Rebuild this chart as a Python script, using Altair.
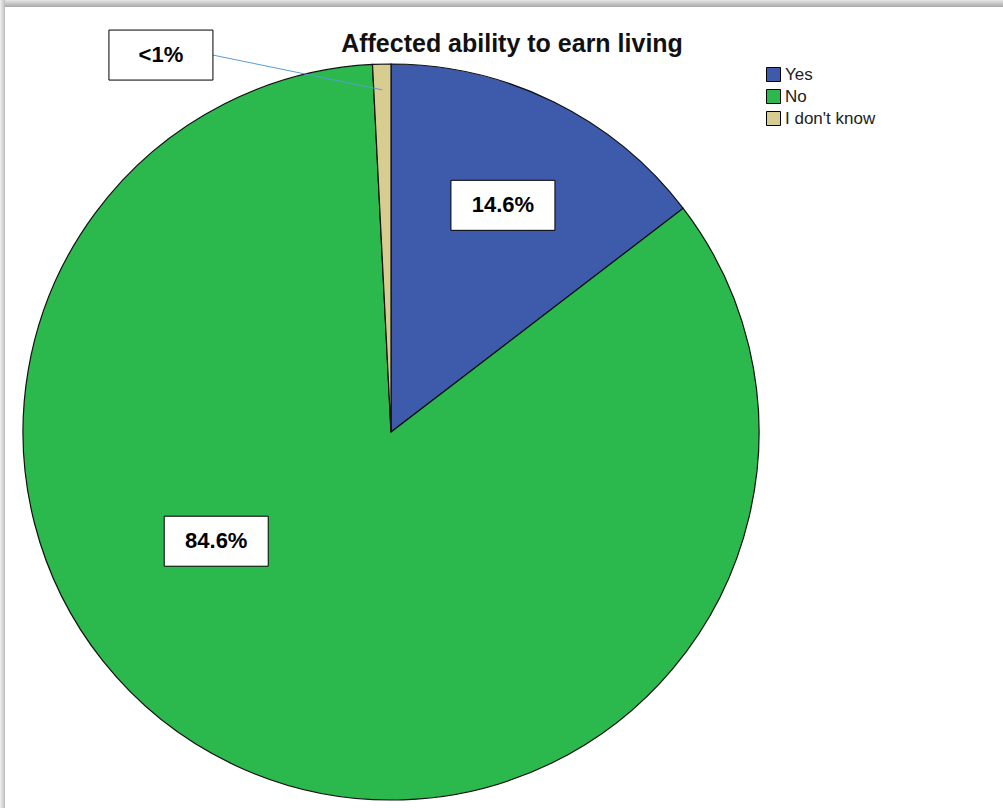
import altair as alt
import numpy as np
import pandas as pd

# ---- data ----
categories = ["Yes", "No", "I don't know"]
percent = [14.6, 84.6, 0.8]
label_text = ["14.6%", "84.6%", "<1%"]
colors = ["#3D5AAB", "#2BB84C", "#D8CD91"]
title_text = "Affected ability to earn living"

W, H = 1003, 808
CX, CY, R = 391, 432, 368

df = pd.DataFrame({"cat": categories, "pct": percent, "ord": [1, 2, 3], "lab": label_text})

# label layout (angle clockwise from 12 o'clock in degrees, distance as fraction of radius)
cum = np.cumsum(percent)
mid_deg = (cum - np.array(percent) / 2) / 100 * 360
lab_angle = {"Yes": mid_deg[0], "No": 238.0, "I don't know": 328.6}
lab_frac = {"Yes": 0.687, "No": 0.56, "I don't know": 1.2}
BOX_W, BOX_H = 104, 50

rows = []
for c, t in zip(categories, label_text):
    a = np.deg2rad(lab_angle[c])
    x = CX + lab_frac[c] * R * np.sin(a)
    y = CY - lab_frac[c] * R * np.cos(a)
    rows.append({"lab": t, "x": x, "y": y, "x0": x - BOX_W / 2, "x1": x + BOX_W / 2,
                 "y0": y - BOX_H / 2, "y1": y + BOX_H / 2})
lab_df = pd.DataFrame(rows)

# leader line for the small slice
idk = lab_df.iloc[2]
a_end = np.deg2rad(360 - percent[2] / 100 * 360 / 2)
leader = pd.DataFrame({"xa": [idk["x1"]], "ya": [idk["y"]],
                       "xb": [CX + 0.93 * R * np.sin(a_end)], "yb": [CY - 0.93 * R * np.cos(a_end)]})

xs = alt.Scale(domain=[0, W], range=[0, W])
ys = alt.Scale(domain=[0, H], range=[0, H])

# frame shadow
shadow_top = alt.Chart(pd.DataFrame({"a": [0]})).mark_rect(
    color=alt.Gradient(gradient="linear", x1=0, x2=0, y1=0, y2=1,
                       stops=[alt.GradientStop(color="#e6e6e6", offset=0),
                              alt.GradientStop(color="#a8a8a8", offset=1)])
).encode(x=alt.value(0), x2=alt.value(W), y=alt.value(0), y2=alt.value(7))
shadow_left = alt.Chart(pd.DataFrame({"a": [0]})).mark_rect(
    color=alt.Gradient(gradient="linear", x1=0, x2=1, y1=0, y2=0,
                       stops=[alt.GradientStop(color="#f0f0f0", offset=0),
                              alt.GradientStop(color="#bdbdbd", offset=1)])
).encode(x=alt.value(0), x2=alt.value(5), y=alt.value(0), y2=alt.value(H))

pie = alt.Chart(df).mark_arc(radius=R, stroke="#111111", strokeWidth=1.2).encode(
    theta=alt.Theta("pct:Q", stack=True),
    order=alt.Order("ord:Q"),
    color=alt.Color("cat:N", scale=alt.Scale(domain=categories, range=colors),
                    sort=categories,
                    legend=alt.Legend(title=None, orient="none", legendX=765, legendY=66,
                                      symbolType="square", symbolSize=196,
                                      symbolStrokeColor="black", symbolStrokeWidth=1,
                                      labelFont="Liberation Sans", labelFontSize=17,
                                      labelColor="#222222", labelOffset=3, rowPadding=3,
                                      symbolOpacity=1)),
    x=alt.value(CX), y=alt.value(CY),
)

line = alt.Chart(leader).mark_rule(color="#5B9BD5", strokeWidth=1).encode(
    x=alt.X("xa:Q", scale=xs, axis=None), y=alt.Y("ya:Q", scale=ys, axis=None),
    x2="xb:Q", y2="yb:Q")

boxes = alt.Chart(lab_df).mark_rect(fill="white", stroke="black", strokeWidth=1).encode(
    x=alt.X("x0:Q", scale=xs, axis=None), x2="x1:Q",
    y=alt.Y("y0:Q", scale=ys, axis=None), y2="y1:Q")

texts = alt.Chart(lab_df).mark_text(font="Liberation Sans", fontWeight="bold", fontSize=22,
                                     color="black", align="center", baseline="middle").encode(
    x=alt.X("x:Q", scale=xs, axis=None), y=alt.Y("y:Q", scale=ys, axis=None), text="lab:N")

title = alt.Chart(pd.DataFrame({"t": [title_text]})).mark_text(
    font="Liberation Sans", fontWeight="bold", fontSize=25, color="#111111",
    align="center", baseline="middle").encode(
    x=alt.value(512), y=alt.value(44), text="t:N")

chart = alt.layer(shadow_top, shadow_left, pie, line, boxes, texts, title).properties(
    width=W, height=H, padding=0, autosize=alt.AutoSizeParams(type="none"),
    background="white"
).configure_view(stroke=None).resolve_scale(x="shared", y="shared")

chart.save("out.html", embed_options={"renderer": "svg", "actions": False})
